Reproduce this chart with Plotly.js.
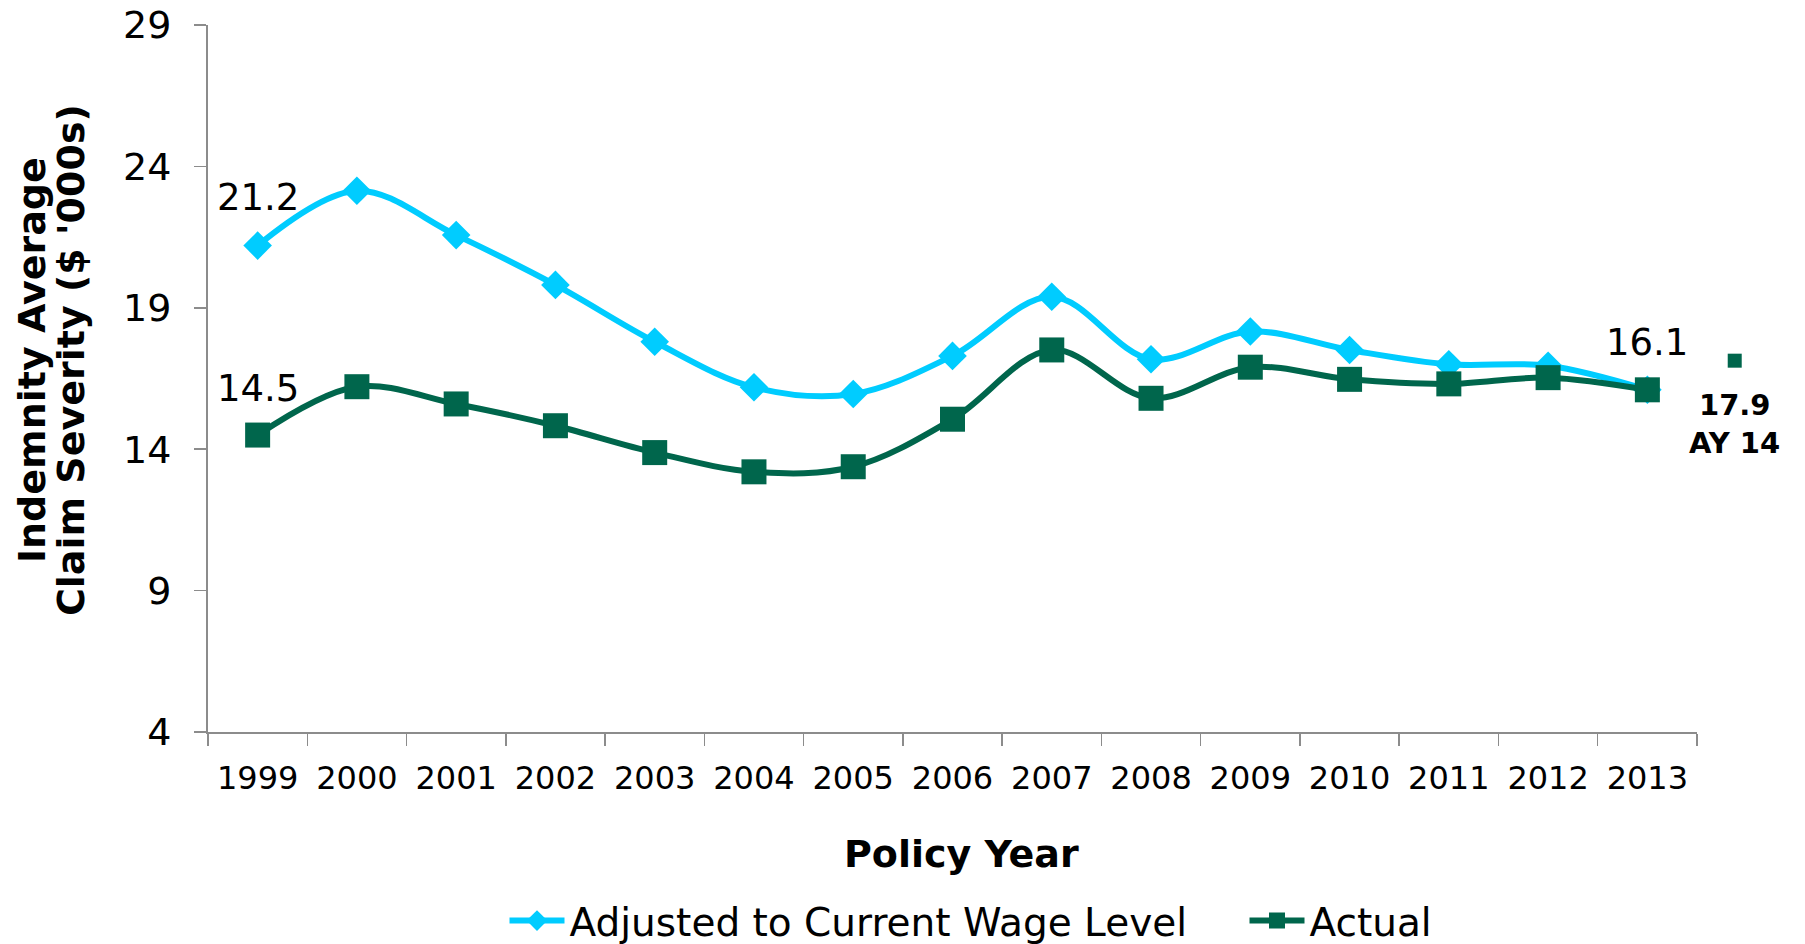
<!DOCTYPE html>
<html>
<head>
<meta charset="utf-8">
<script src="https://cdn.plot.ly/plotly-3.0.1.min.js"></script>
<style>
html, body { margin: 0; padding: 0; background: #ffffff; }
#chart { width: 1805px; height: 944px; }
</style>
</head>
<body>
<div id="chart"></div>
<script>
// ---- Data ----
const years = ['1999','2000','2001','2002','2003','2004','2005','2006','2007','2008','2009','2010','2011','2012','2013'];
const adjusted = [21.2, 23.14, 21.57, 19.81, 17.80, 16.19, 15.95, 17.30, 19.39, 17.18, 18.16, 17.51, 17.0, 16.95, 16.1];
const actual   = [14.5, 16.21, 15.60, 14.83, 13.88, 13.20, 13.38, 15.06, 17.51, 15.80, 16.90, 16.47, 16.31, 16.53, 16.1];
const seriesNames = ['Adjusted to Current Wage Level', 'Actual'];
const ay14Pos = [14.88];      // drawn just right of the last policy year (index units)
const ay14Value = [17.13];    // plotted height of the AY 14 marker
const ay14Label = ['17.9', 'AY 14'];
const yTicks = [4, 9, 14, 19, 24, 29];
const yTitleLines = ['Indemnity Average', 'Claim Severity ($ \'000s)'];
const xTitle = 'Policy Year';

const idx = years.map((_, i) => i);
const last = years.length - 1;

const cyan = '#00CCFF';
const green = '#00664C';
const axisGrey = '#8C8C8C';
const FONT = 'DejaVu Sans, Verdana, sans-serif';

// layout geometry
const W = 1805, H = 944;
const mL = 208, mR = 38, mT = 25, mB = 212;
const axisW = 1489;                    // width of the category axis in px
const plotW = W - mL - mR;
const catPx = axisW / years.length;
const xDomEnd = axisW / plotW;
const x2RangeEnd = -0.5 + plotW / catPx;

const traces = [
  {
    type: 'scatter', mode: 'lines+markers', name: seriesNames[0],
    x: idx, y: adjusted, legendwidth: 670,
    line: { color: cyan, width: 6, shape: 'spline', smoothing: 1 },
    marker: { symbol: 'diamond', size: 22, color: cyan }
  },
  {
    type: 'scatter', mode: 'lines+markers', name: seriesNames[1],
    x: idx, y: actual,
    line: { color: green, width: 6, shape: 'spline', smoothing: 1 },
    marker: { symbol: 'square', size: 25, color: green }
  },
  {
    type: 'scatter', mode: 'markers', name: 'AY 14', showlegend: false,
    xaxis: 'x2', yaxis: 'y',
    x: ay14Pos, y: ay14Value, cliponaxis: false,
    marker: { symbol: 'square', size: 14, color: green }
  }
];

const labelFont = { family: FONT, size: 37, color: '#000' };
const annotations = [
  { xref: 'x', yref: 'y', x: idx[0], y: adjusted[0], text: adjusted[0].toFixed(1), showarrow: false, yshift: 48, font: labelFont },
  { xref: 'x', yref: 'y', x: idx[0], y: actual[0], text: actual[0].toFixed(1), showarrow: false, yshift: 47, font: labelFont },
  { xref: 'x', yref: 'y', x: idx[last], y: actual[last], text: actual[last].toFixed(1), showarrow: false, yshift: 47, font: labelFont },
  { xref: 'x2', yref: 'y', x: ay14Pos[0], y: ay14Value[0], text: '<b>' + ay14Label[0] + '</b>',
    showarrow: false, yshift: -44, font: { family: FONT, size: 29, color: '#000' } },
  { xref: 'x2', yref: 'y', x: ay14Pos[0], y: ay14Value[0], text: '<b>' + ay14Label[1] + '</b>',
    showarrow: false, yshift: -82, font: { family: FONT, size: 29, color: '#000' } },
  { xref: 'paper', yref: 'paper', x: 0, y: 0.526, xshift: -176, xanchor: 'center', yanchor: 'middle',
    textangle: -90, showarrow: false, text: '<b>' + yTitleLines[0] + '</b>',
    font: { family: FONT, size: 38, color: '#000' } },
  { xref: 'paper', yref: 'paper', x: 0, y: 0.526, xshift: -137, xanchor: 'center', yanchor: 'middle',
    textangle: -90, showarrow: false, text: '<b>' + yTitleLines[1] + '</b>',
    font: { family: FONT, size: 38, color: '#000' } },
  { xref: 'paper', yref: 'paper', x: 753 / plotW, y: -0.1726, xanchor: 'center', yanchor: 'middle',
    showarrow: false, text: '<b>' + xTitle + '</b>',
    font: { family: FONT, size: 38, color: '#000' } }
];

const layout = {
  width: W, height: H,
  margin: { l: mL, r: mR, t: mT, b: mB, pad: 0, autoexpand: false },
  paper_bgcolor: '#ffffff', plot_bgcolor: 'rgba(0,0,0,0)',
  font: { family: FONT, color: '#000' },
  showlegend: true,
  legend: {
    orientation: 'h', x: 763 / plotW, xanchor: 'center', y: -0.267, yanchor: 'middle',
    font: { family: FONT, size: 39, color: '#000' }, traceorder: 'normal',
    itemwidth: 55, bgcolor: 'rgba(0,0,0,0)'
  },
  xaxis: {
    type: 'linear', range: [-0.5, last + 0.5], domain: [0, xDomEnd], anchor: 'y',
    tickmode: 'array', tickvals: idx, ticktext: years,
    ticks: '', ticklabelstandoff: 17,
    minor: { tickmode: 'linear', tick0: -0.5, dtick: 1, ticks: 'outside', ticklen: 12, tickwidth: 1.5, tickcolor: axisGrey, showgrid: false },
    showline: true, linecolor: axisGrey, linewidth: 2,
    showgrid: false, zeroline: false,
    tickfont: { family: FONT, size: 32, color: '#000' }
  },
  xaxis2: {
    type: 'linear', range: [-0.5, x2RangeEnd], domain: [0, 1], anchor: 'y',
    visible: false, showgrid: false, zeroline: false
  },
  yaxis: {
    range: [4, 29], tickmode: 'array', tickvals: yTicks, ticks: 'outside', ticklen: 12, tickwidth: 1.5, tickcolor: axisGrey,
    showline: true, linecolor: axisGrey, linewidth: 2, anchor: 'x',
    showgrid: false, zeroline: false, ticklabelstandoff: 15,
    tickfont: { family: FONT, size: 38, color: '#000' }
  },
  annotations: annotations
};

Plotly.newPlot('chart', traces, layout, { displayModeBar: false, staticPlot: true });
</script>
</body>
</html>
